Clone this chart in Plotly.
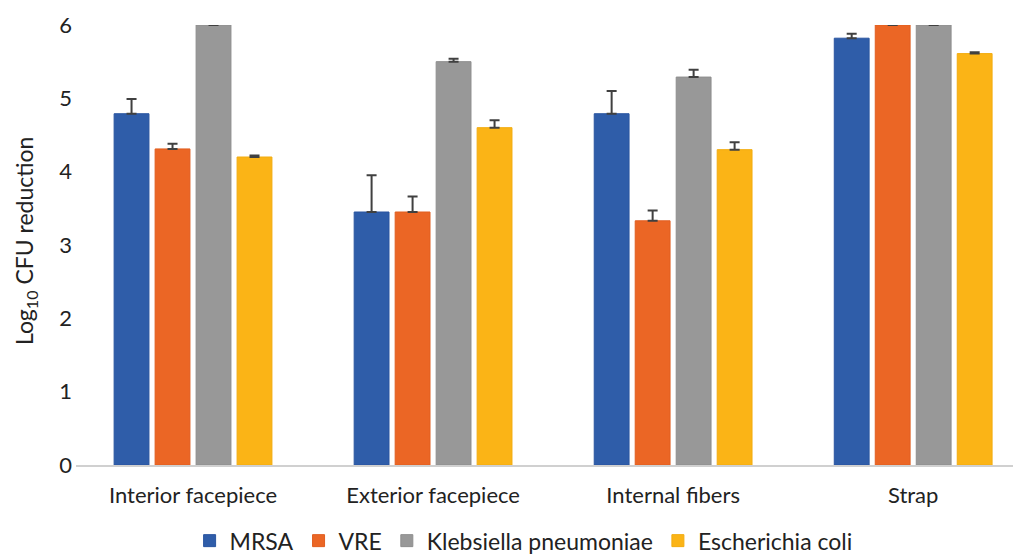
import plotly.graph_objects as go

categories = ["Interior facepiece", "Exterior facepiece", "Internal fibers", "Strap"]
series_names = ["MRSA", "VRE", "Klebsiella pneumoniae", "Escherichia coli"]
mrsa = [4.79, 3.45, 4.79, 5.82]
mrsa_err = [0.20, 0.50, 0.31, 0.06]
vre = [4.31, 3.45, 3.33, 6.0]
vre_err = [0.07, 0.21, 0.14, 0.0]
kleb = [6.0, 5.50, 5.29, 6.0]
kleb_err = [0.0, 0.04, 0.10, 0.0]
ecoli = [4.20, 4.60, 4.30, 5.61]
ecoli_err = [0.02, 0.10, 0.10, 0.02]
y_ticks = [0, 1, 2, 3, 4, 5, 6]

colors = ["#2F5DA9", "#EB6625", "#989898", "#FBB416"]
edge = ["#2A55A0", "#E05E20", "#8E8E8E", "#F2AC10"]
values = [mrsa, vre, kleb, ecoli]
errors = [mrsa_err, vre_err, kleb_err, ecoli_err]

FONT = "Lato, 'Open Sans', sans-serif"

fig = go.Figure()
for name, v, e, c, ec in zip(series_names, values, errors, colors, edge):
    fig.add_trace(go.Bar(
        name=name, x=categories, y=v,
        marker=dict(color=c, line=dict(color=ec, width=1)),
        error_y=dict(type="data", array=e, arrayminus=[0] * len(e), symmetric=False,
                     color="#404040", thickness=2, width=5),
    ))

fig.update_layout(
    width=1021, height=555,
    paper_bgcolor="white", plot_bgcolor="white",
    margin=dict(l=68, r=0, t=17, b=98, autoexpand=False),
    barmode="group", bargap=0.317, bargroupgap=0.15,
    font=dict(family=FONT, size=22, color="#222222"),
    xaxis=dict(range=[-0.4875, 3.4825], showgrid=False, showline=True, automargin=False,
               linecolor="#D0D0D0", linewidth=1.5, ticks="", tickfont=dict(size=22),
               ticklabelstandoff=10),
    yaxis=dict(range=[0, 6], tickvals=y_ticks, showgrid=False, zeroline=False, automargin=False,
               showline=False, ticks="", tickfont=dict(size=22), ticklabelstandoff=3),
    legend=dict(orientation="h", x=0.505, xref="container", xanchor="center",
                y=-0.172, yref="paper", yanchor="middle",
                font=dict(size=23), itemwidth=30, traceorder="normal"),
    showlegend=True,
    annotations=[dict(text="Log<sub>10</sub> CFU reduction", textangle=-90,
                      xref="paper", yref="paper", x=-0.053, y=0.51,
                      xanchor="center", yanchor="middle", showarrow=False,
                      font=dict(size=23, family=FONT, color="#222222"))],
)

fig.write_html("out.html")
